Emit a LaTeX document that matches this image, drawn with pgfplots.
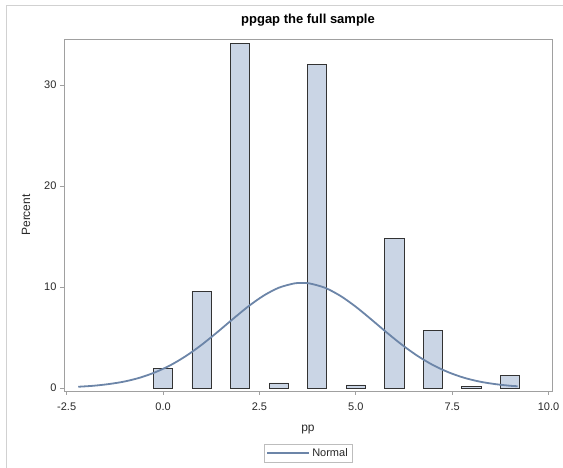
\documentclass[border=0pt]{standalone}
\usepackage{fontspec}
\setmainfont{Liberation Sans}
\usepackage{pgfplots}
\pgfplotsset{compat=1.18}

\definecolor{barfill}{RGB}{202,213,229}
\definecolor{fitline}{RGB}{108,133,168}
\definecolor{framegray}{RGB}{160,160,160}
\definecolor{txt}{RGB}{40,40,40}

\begin{document}
\begin{tikzpicture}
\begin{axis}[
    at={(0pt,0pt)}, anchor=south west,
    scale only axis, width=488pt, height=352pt,
    xmin=-2.57, xmax=10.09, ymin=-0.3, ymax=34.55,
    xtick={-2.5,0,2.5,5,7.5,10},
    xticklabels={-2.5,0.0,2.5,5.0,7.5,10.0},
    ytick={0,10,20,30},
    xtick pos=bottom, ytick pos=left,
    tick align=outside, major tick length=4pt,
    tick style={framegray, line width=0.6pt},
    axis line style={framegray, line width=0.8pt},
    /pgf/number format/assume math mode=true,
    ticklabel style={font=\fontsize{11}{13}\selectfont, text=txt},
    xticklabel style={yshift=-4pt},
    title={ppgap the full sample},
    title style={font=\fontsize{13}{15}\selectfont\bfseries, text=black, at={(0.5,1)}, anchor=south, yshift=3pt},
    xlabel={pp},
    xlabel style={font=\fontsize{12}{14}\selectfont, text=txt, at={(axis description cs:0.5,-0.11)}, anchor=center},
    ylabel={Percent},
    ylabel style={font=\fontsize{12}{14}\selectfont, text=txt, at={(axis description cs:-0.078,0.5)}, anchor=center},
    legend style={at={(0.5,-0.15)}, anchor=north, draw=framegray!70,
        font=\fontsize{11}{13}\selectfont, text=txt, inner sep=2.5pt},
    legend image code/.code={\draw[#1] (0pt,0pt) -- (42pt,0pt);},
    legend image post style={line width=2pt},
]
\addplot[ybar, bar width=0.5, bar shift=0pt, fill=barfill, draw=black!80, line width=0.8pt, forget plot]
coordinates {(0,1.9) (1,9.6) (2,34.1) (3,0.5) (4,32.0) (5,0.3) (6,14.8) (7,5.7) (8,0.15) (9,1.2)};
\addplot[fitline, line width=1.8pt, smooth, mark=none]
coordinates {(-2.2,0.12) (-1.8,0.22) (-1.4,0.39) (-1.0,0.64) (-0.6,1.02) (-0.2,1.56)
    (0.2,2.27) (0.6,3.18) (1.0,4.27) (1.4,5.50) (1.8,6.79) (2.2,8.04) (2.6,9.12)
    (3.0,9.92) (3.4,10.35) (3.6,10.40) (3.8,10.35) (4.2,9.92) (4.6,9.12) (5.0,8.04)
    (5.4,6.79) (5.8,5.50) (6.2,4.27) (6.6,3.18) (7.0,2.27) (7.4,1.56) (7.8,1.02)
    (8.2,0.64) (8.6,0.39) (9.0,0.22) (9.2,0.17)};
\addlegendentry{Normal}
\end{axis}
\draw[black!18, line width=1pt] (-57pt,-77pt) -- (-57pt,385pt) -- (499pt,385pt);
\pgfresetboundingbox
\path[use as bounding box] (-64pt,-77pt) rectangle (499pt,391pt);
\end{tikzpicture}
\end{document}
